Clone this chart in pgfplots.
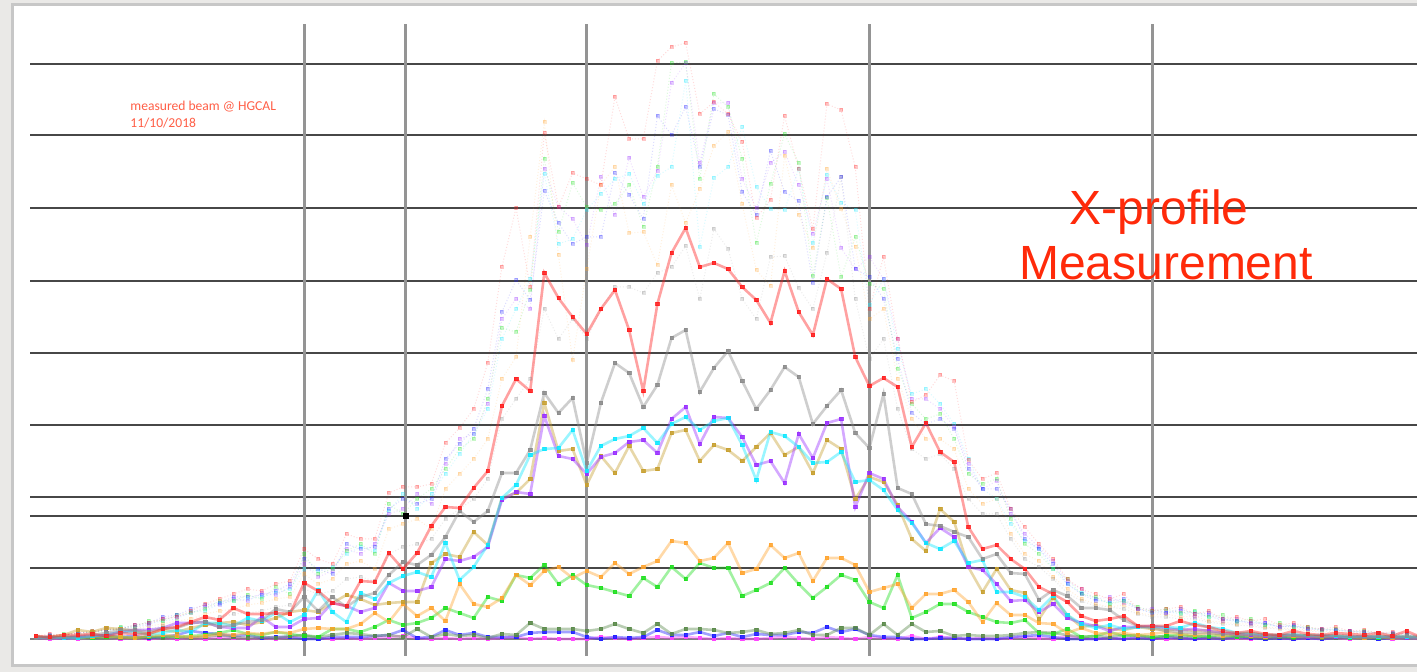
\documentclass[border=0pt]{standalone}
\usepackage{fontspec}
\setmainfont{Liberation Sans}
\newfontfamily\smallf{Carlito}
\usepackage{pgfplots}
\pgfplotsset{compat=1.18}
\definecolor{bgcol}{HTML}{EAE9E7}
\definecolor{cRed}{HTML}{FF2020}
\definecolor{cGray}{HTML}{8C8C8C}
\definecolor{cCyan}{HTML}{10E8FF}
\definecolor{cPurple}{HTML}{9A30FF}
\definecolor{cGold}{HTML}{C8A030}
\definecolor{cOrange}{HTML}{FFA530}
\definecolor{cGreen}{HTML}{20E020}
\definecolor{cOlive}{HTML}{5A8A4A}
\definecolor{cBlue}{HTML}{2020FF}
\definecolor{cMag}{HTML}{FF40FF}
\definecolor{cTitle}{HTML}{FF2A0A}
\pgfplotsset{
  main/.style={line width=1.3pt, draw opacity=0.42, mark=square*, mark size=0.85pt,
     mark options={solid, draw opacity=0.85, fill opacity=0.85, line width=0.2pt}},
  faint/.style={line width=0.5pt, densely dotted, draw opacity=0.16, mark=square*, mark size=0.75pt,
     mark options={solid, draw opacity=0.25, fill opacity=0.25, line width=0.2pt}},
  table/ser/.style={x expr=\coordindex, y index=0, header=false, row sep=\\},
}
\begin{document}
\begin{tikzpicture}
\useasboundingbox (-15pt,-8pt) rectangle (693.5pt,328pt);
\fill[bgcol] (-15pt,-8pt) rectangle (693.5pt,328pt);
\fill[black!22] (-9.3pt,-5.5pt) rectangle (700pt,326.5pt);
\fill[white] (-8pt,-4pt) rectangle (700pt,325pt);
\begin{axis}[at={(0pt,0pt)}, anchor=south west, scale only axis,
  width=693.5pt, height=316pt,
  xmin=-0.39, xmax=97.75, ymin=-17, ymax=615,
  axis line style={draw=none}, xtick=\empty, ytick=\empty]
% grid lines
\foreach \h in {71,123,142,214,286,358,431,504,575} {
  \edef\tmp{\noexpand\draw[color=black!72, line width=0.65pt] (axis cs:-0.39,\h) -- (axis cs:97.75,\h);}\tmp
}
\draw[color=black!50, line width=1.1pt] (axis cs:-0.39,0) -- (axis cs:97.75,0);
\foreach \v in {19,26.2,39,59,79} {
  \edef\tmp{\noexpand\draw[color=black!42, line width=1.5pt] (axis cs:\v,-17) -- (axis cs:\v,615);}\tmp
}
% faint series
\addplot[faint, color=cGray] table[ser] {1\\2\\3\\3\\5\\6\\7\\9\\10\\13\\14\\17\\20\\22\\25\\26\\28\\32\\34\\50\\45\\48\\60\\62\\58\\85\\92\\95\\100\\120\\130\\140\\160\\220\\240\\260\\330\\300\\320\\300\\330\\352\\352\\346\\366\\372\\393\\340\\410\\390\\340\\320\\382\\383\\351\\330\\386\\462\\340\\280\\300\\230\\190\\180\\185\\170\\140\\125\\125\\100\\80\\72\\60\\46\\38\\33\\32\\30\\25\\22\\22\\20\\20\\17\\15\\14\\13\\11\\10\\9\\8\\7\\6\\6\\5\\4\\4\\3\\2\\};
\addplot[faint, color=cOrange] table[ser] {2\\3\\4\\4\\6\\7\\9\\10\\13\\15\\18\\20\\25\\28\\30\\34\\36\\40\\42\\65\\55\\60\\75\\78\\70\\110\\115\\120\\110\\150\\165\\180\\200\\260\\282\\402\\517\\384\\279\\370\\454\\472\\406\\407\\374\\454\\416\\450\\493\\507\\435\\369\\353\\483\\424\\391\\470\\430\\392\\320\\330\\260\\220\\200\\200\\190\\150\\135\\140\\105\\85\\78\\62\\50\\40\\35\\32\\34\\26\\24\\25\\22\\23\\18\\17\\15\\15\\12\\11\\10\\9\\8\\7\\6\\6\\5\\4\\4\\3\\};
\addplot[faint, color=cCyan] table[ser] {2\\3\\3\\5\\7\\8\\11\\12\\15\\18\\20\\27\\28\\35\\38\\40\\42\\46\\50\\70\\68\\72\\85\\92\\88\\128\\145\\130\\145\\165\\185\\205\\230\\300\\330\\360\\465\\395\\400\\429\\445\\460\\465\\435\\463\\472\\558\\392\\461\\472\\512\\452\\430\\429\\470\\396\\464\\436\\429\\334\\360\\290\\245\\250\\235\\215\\180\\150\\140\\115\\98\\90\\70\\55\\46\\40\\36\\38\\30\\27\\28\\25\\27\\22\\20\\17\\18\\14\\13\\12\\11\\9\\9\\7\\7\\5\\5\\4\\3\\};
\addplot[faint, color=cPurple] table[ser] {2\\3\\4\\6\\6\\10\\9\\12\\14\\20\\22\\26\\32\\34\\40\\38\\46\\44\\52\\75\\62\\68\\90\\85\\95\\125\\130\\145\\135\\175\\200\\205\\235\\320\\340\\330\\470\\432\\420\\394\\462\\424\\481\\442\\468\\556\\576\\476\\536\\536\\460\\431\\476\\487\\454\\405\\460\\391\\370\\382\\360\\300\\240\\240\\230\\212\\175\\150\\158\\125\\105\\92\\78\\58\\50\\40\\42\\36\\30\\30\\26\\28\\22\\24\\18\\20\\15\\16\\12\\13\\10\\9\\8\\8\\6\\6\\5\\4\\3\\};
\addplot[faint, color=cGreen] table[ser] {2\\3\\5\\5\\8\\8\\12\\12\\18\\18\\24\\26\\30\\38\\38\\44\\40\\52\\45\\85\\65\\70\\88\\95\\85\\135\\125\\140\\150\\170\\190\\200\\240\\311\\307\\349\\480\\407\\456\\432\\429\\435\\454\\412\\472\\576\\577\\460\\545\\532\\480\\396\\455\\505\\476\\363\\441\\362\\402\\355\\350\\270\\235\\220\\225\\200\\165\\155\\160\\120\\95\\85\\70\\60\\45\\42\\35\\38\\32\\28\\30\\26\\28\\22\\24\\18\\20\\14\\16\\12\\12\\9\\10\\7\\8\\6\\5\\4\\3\\};
\addplot[faint, color=cBlue] table[ser] {2\\4\\4\\6\\7\\9\\10\\14\\16\\22\\24\\30\\34\\36\\42\\42\\44\\48\\55\\80\\70\\65\\95\\90\\92\\130\\140\\135\\140\\180\\195\\210\\250\\327\\359\\339\\448\\416\\395\\402\\402\\466\\444\\420\\523\\504\\532\\472\\530\\524\\447\\424\\488\\447\\438\\356\\442\\462\\370\\362\\340\\280\\226\\215\\220\\210\\170\\150\\150\\130\\100\\90\\75\\55\\45\\38\\38\\40\\30\\26\\26\\30\\25\\26\\20\\18\\16\\16\\12\\14\\10\\10\\9\\8\\7\\6\\6\\5\\4\\};
\addplot[faint, color=cRed] table[ser] {3\\5\\4\\6\\8\\10\\10\\14\\16\\20\\22\\28\\35\\40\\45\\50\\48\\55\\58\\90\\80\\75\\105\\100\\100\\146\\152\\152\\155\\196\\211\\230\\276\\372\\431\\352\\506\\432\\466\\460\\454\\542\\500\\500\\578\\592\\596\\525\\537\\525\\497\\421\\439\\523\\470\\410\\535\\529\\472\\330\\382\\300\\237\\244\\264\\258\\179\\160\\166\\130\\112\\95\\80\\60\\50\\45\\40\\45\\30\\28\\30\\32\\25\\28\\20\\22\\18\\20\\14\\16\\12\\10\\12\\8\\9\\6\\7\\5\\4\\};
% main series
\addplot[main, color=cMag] table[ser] {1\\0\\1\\0\\1\\2\\0\\1\\0\\1\\0\\1\\0\\2\\1\\0\\1\\0\\2\\3\\1\\0\\1\\0\\1\\2\\3\\1\\0\\1\\0\\1\\0\\1\\2\\0\\1\\0\\0\\0\\2\\1\\0\\1\\2\\1\\2\\1\\0\\1\\0\\0\\1\\2\\1\\0\\2\\1\\0\\2\\1\\0\\3\\0\\2\\1\\0\\1\\0\\1\\2\\1\\0\\3\\1\\0\\1\\0\\2\\1\\0\\1\\0\\1\\0\\1\\0\\2\\1\\0\\1\\0\\1\\0\\2\\1\\0\\1\\0\\};
\addplot[main, color=cBlue] table[ser] {1\\2\\1\\2\\1\\4\\2\\3\\1\\2\\4\\8\\6\\5\\3\\4\\1\\2\\2\\0\\0\\2\\2\\2\\3\\4\\9\\1\\2\\9\\4\\6\\2\\2\\2\\6\\7\\7\\7\\2\\0\\2\\1\\2\\9\\4\\4\\7\\3\\6\\2\\5\\4\\4\\7\\6\\12\\7\\10\\4\\2\\2\\0\\0\\1\\1\\0\\0\\0\\2\\3\\4\\2\\0\\0\\0\\1\\0\\1\\0\\2\\1\\0\\1\\0\\2\\1\\0\\1\\0\\1\\0\\1\\2\\1\\0\\1\\2\\1\\};
\addplot[main, color=cOlive] table[ser] {3\\1\\2\\1\\1\\2\\1\\1\\2\\1\\2\\1\\2\\4\\2\\1\\2\\1\\3\\4\\2\\4\\6\\5\\3\\4\\2\\10\\2\\5\\3\\4\\1\\5\\4\\16\\10\\10\\10\\8\\10\\15\\10\\6\\15\\5\\10\\10\\9\\6\\7\\9\\5\\6\\9\\4\\4\\11\\11\\4\\15\\4\\15\\7\\8\\3\\4\\3\\3\\4\\6\\7\\6\\4\\2\\3\\2\\4\\3\\2\\3\\2\\3\\2\\1\\3\\2\\1\\2\\1\\2\\1\\1\\2\\1\\1\\1\\1\\1\\};
\addplot[main, color=cGreen] table[ser] {1\\1\\2\\1\\1\\2\\2\\1\\2\\3\\2\\3\\4\\6\\9\\5\\4\\7\\5\\3\\2\\10\\10\\7\\12\\19\\14\\16\\21\\31\\26\\21\\42\\38\\64\\61\\74\\55\\64\\54\\51\\47\\43\\61\\52\\72\\60\\76\\71\\71\\43\\49\\56\\71\\55\\41\\52\\64\\59\\37\\31\\64\\21\\27\\35\\35\\27\\22\\17\\16\\19\\6\\5\\10\\2\\3\\7\\3\\4\\2\\3\\5\\2\\3\\4\\2\\3\\2\\3\\2\\4\\2\\3\\1\\2\\1\\2\\1\\1\\};
\addplot[main, color=cOrange] table[ser] {2\\1\\2\\1\\2\\3\\2\\1\\3\\4\\3\\2\\3\\5\\4\\6\\5\\7\\6\\10\\11\\10\\10\\15\\26\\17\\35\\23\\31\\18\\55\\35\\32\\41\\64\\54\\68\\72\\61\\68\\62\\76\\65\\72\\78\\98\\96\\78\\81\\96\\66\\70\\94\\81\\86\\58\\81\\81\\74\\47\\51\\55\\31\\45\\45\\49\\37\\17\\36\\24\\24\\16\\15\\6\\11\\6\\5\\6\\4\\5\\7\\5\\4\\6\\3\\5\\3\\2\\4\\3\\2\\3\\2\\2\\1\\2\\1\\2\\1\\};
\addplot[main, color=cGold] table[ser] {1\\2\\4\\9\\7\\11\\10\\8\\5\\9\\7\\11\\14\\16\\17\\14\\17\\21\\27\\29\\27\\36\\44\\40\\34\\36\\37\\37\\76\\85\\82\\107\\94\\141\\146\\160\\236\\188\\190\\154\\183\\166\\193\\168\\170\\206\\209\\178\\194\\189\\178\\192\\206\\184\\192\\166\\199\\190\\140\\162\\157\\134\\100\\88\\130\\117\\72\\47\\70\\49\\46\\20\\41\\24\\12\\14\\10\\9\\12\\10\\9\\10\\8\\9\\6\\5\\6\\4\\3\\4\\3\\2\\3\\2\\2\\3\\2\\2\\1\\};
\addplot[main, color=cPurple] table[ser] {1\\1\\1\\2\\3\\4\\7\\9\\9\\11\\16\\16\\17\\12\\11\\11\\22\\12\\12\\20\\21\\36\\33\\27\\31\\56\\48\\48\\52\\80\\78\\82\\92\\139\\147\\145\\223\\183\\180\\165\\182\\186\\197\\199\\186\\220\\232\\195\\222\\221\\202\\174\\178\\156\\205\\181\\216\\220\\132\\166\\160\\132\\117\\96\\111\\102\\72\\69\\55\\38\\39\\27\\35\\21\\16\\13\\8\\12\\12\\13\\11\\9\\10\\8\\6\\5\\4\\3\\3\\4\\2\\3\\2\\2\\2\\2\\2\\1\\1\\};
\addplot[main, color=cCyan] table[ser] {1\\2\\1\\1\\3\\4\\7\\7\\4\\6\\9\\7\\16\\16\\13\\21\\18\\26\\17\\24\\49\\27\\17\\46\\40\\56\\63\\67\\62\\96\\59\\72\\94\\141\\154\\184\\190\\191\\209\\168\\193\\200\\203\\211\\196\\215\\222\\209\\218\\221\\194\\159\\207\\203\\192\\176\\177\\187\\157\\159\\149\\129\\116\\96\\90\\98\\76\\79\\47\\47\\42\\29\\43\\24\\15\\11\\14\\10\\12\\12\\12\\11\\16\\12\\10\\6\\6\\4\\4\\5\\3\\4\\3\\2\\3\\2\\3\\2\\2\\};
\addplot[main, color=cGray] table[ser] {1\\1\\2\\3\\4\\6\\9\\9\\7\\11\\11\\16\\17\\12\\14\\17\\19\\30\\27\\42\\28\\42\\32\\42\\46\\64\\77\\74\\84\\102\\128\\117\\128\\166\\166\\189\\246\\226\\241\\176\\236\\276\\266\\232\\254\\301\\309\\247\\271\\288\\258\\230\\249\\272\\262\\215\\233\\249\\206\\191\\245\\151\\145\\115\\113\\107\\102\\80\\85\\66\\65\\39\\49\\43\\31\\31\\29\\19\\13\\11\\8\\7\\6\\6\\5\\4\\5\\4\\3\\4\\3\\3\\4\\3\\2\\3\\2\\3\\2\\};
\addplot[main, color=cRed] table[ser] {3\\2\\4\\4\\5\\3\\6\\5\\5\\10\\12\\17\\22\\19\\31\\25\\25\\26\\25\\56\\48\\36\\33\\58\\57\\86\\70\\86\\113\\132\\131\\151\\168\\233\\260\\248\\366\\341\\322\\305\\330\\349\\309\\248\\335\\386\\411\\372\\376\\370\\352\\339\\316\\368\\327\\304\\360\\350\\282\\253\\261\\252\\192\\216\\187\\177\\112\\90\\94\\80\\70\\52\\45\\37\\23\\18\\20\\23\\13\\13\\13\\18\\14\\12\\8\\6\\8\\5\\4\\8\\5\\4\\6\\5\\4\\6\\3\\8\\2\\};
\addplot[only marks, mark=square*, mark size=1.4pt, black] coordinates {(26.2,123)};
\end{axis}
\node[anchor=base west, text=cTitle!75, font=\smallf\fontsize{6.8}{7}\selectfont, inner sep=0pt] at (50pt,272.5pt) {measured beam @ HGCAL};
\node[anchor=base west, text=cTitle!75, font=\smallf\fontsize{6.8}{7}\selectfont, inner sep=0pt] at (50pt,264pt) {11/10/2018};
\node[anchor=base, text=cTitle, font=\fontsize{24}{28}\selectfont, inner sep=0pt] at (564.5pt,215.5pt) {X-profile};
\node[anchor=base, text=cTitle, font=\fontsize{24}{28}\selectfont, inner sep=0pt] at (568pt,188pt) {Measurement};
\end{tikzpicture}
\end{document}
